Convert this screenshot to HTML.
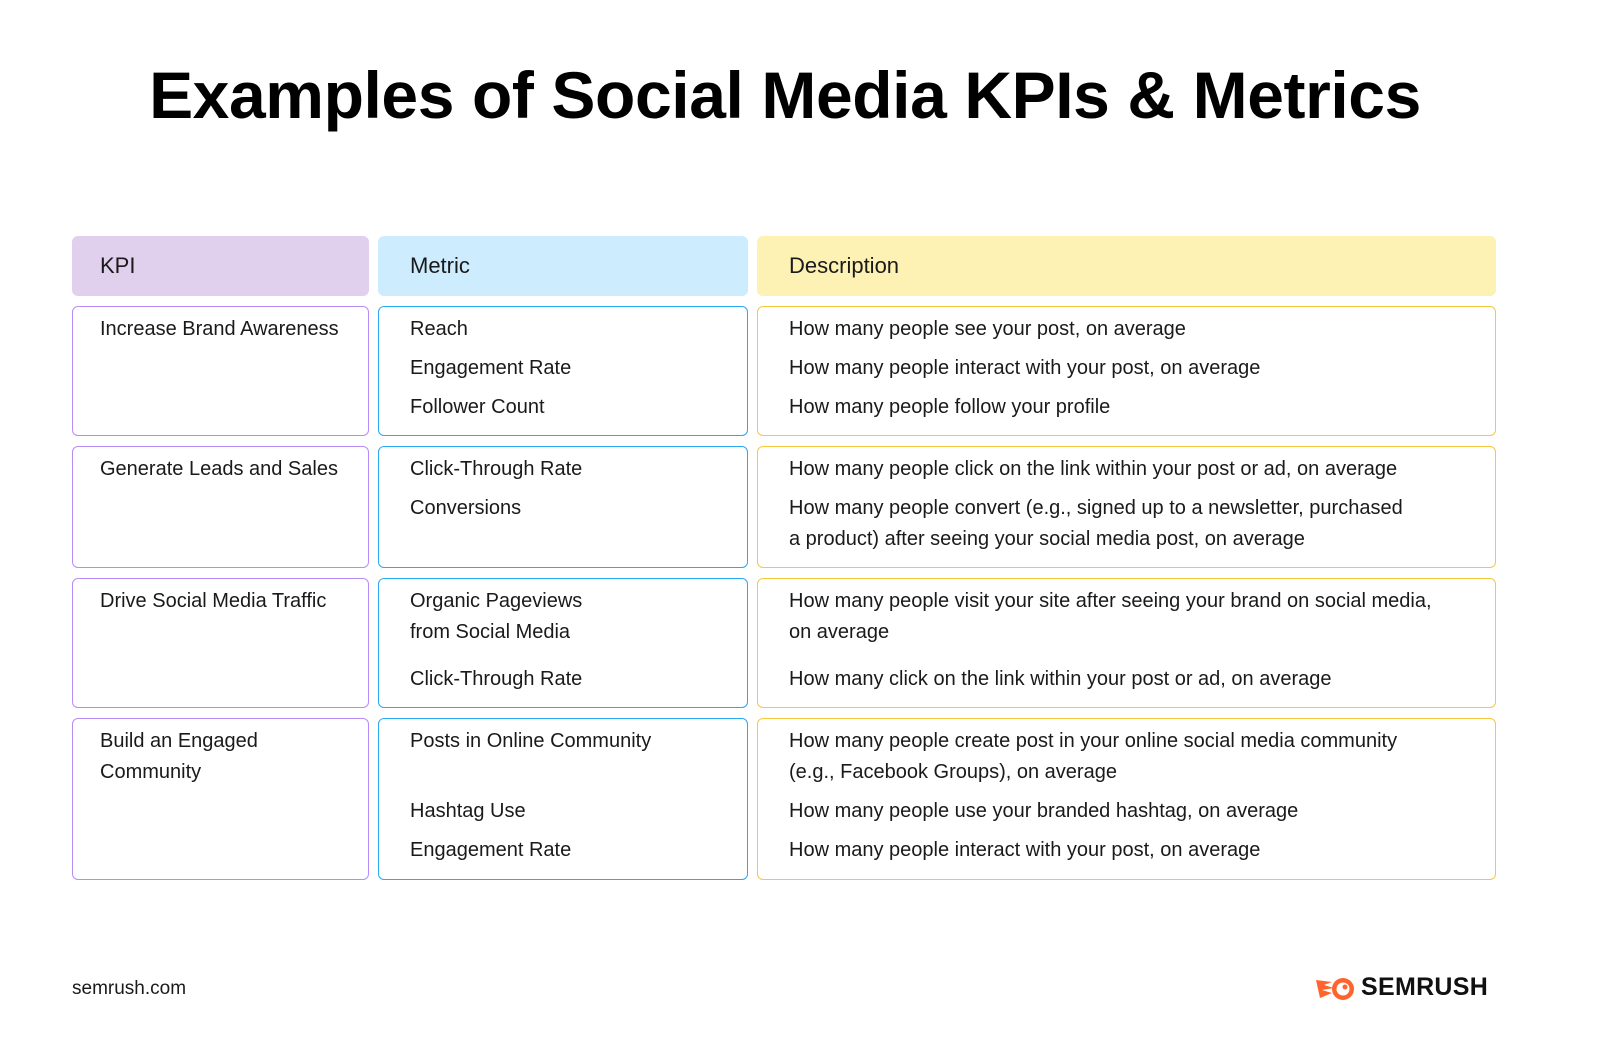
<!DOCTYPE html>
<html><head><meta charset="utf-8"><style>
body{margin:0;width:1600px;height:1045px;background:#fff;position:relative;font-family:"Liberation Sans",sans-serif;color:#1a1a1a;overflow:hidden}
.t{position:absolute;left:0;width:1570px;text-align:center;top:57px;font-size:66px;font-weight:bold;letter-spacing:-0.4px;color:#000}
.b{position:absolute;box-sizing:border-box;border-radius:6px}
.p{border:1.5px solid #b98cf5}.c{border:1.5px solid #2aa8f0}.y{border:1.5px solid #f5c842}
.s{position:absolute;font-size:20px;line-height:31px;white-space:nowrap}
.h{font-size:22px}
</style></head><body>
<div class="t">Examples of Social Media KPIs &amp; Metrics</div>
<div class="b" style="left:72px;top:236px;width:297px;height:60px;background:#e0d0ee"></div>
<div class="b" style="left:378px;top:236px;width:370px;height:60px;background:#cdecfd"></div>
<div class="b" style="left:757px;top:236px;width:739px;height:60px;background:#fdf1b3"></div>
<div class="s h" style="left:100px;top:250px">KPI</div>
<div class="s h" style="left:410px;top:250px">Metric</div>
<div class="s h" style="left:789px;top:250px">Description</div>

<div class="b p" style="left:72px;top:306px;width:297px;height:130px"></div>
<div class="b c" style="left:378px;top:306px;width:370px;height:130px"></div>
<div class="b y" style="left:757px;top:306px;width:739px;height:130px"></div>
<div class="b p" style="left:72px;top:446px;width:297px;height:122px"></div>
<div class="b c" style="left:378px;top:446px;width:370px;height:122px"></div>
<div class="b y" style="left:757px;top:446px;width:739px;height:122px"></div>
<div class="b p" style="left:72px;top:578px;width:297px;height:130px"></div>
<div class="b c" style="left:378px;top:578px;width:370px;height:130px"></div>
<div class="b y" style="left:757px;top:578px;width:739px;height:130px"></div>
<div class="b p" style="left:72px;top:718px;width:297px;height:162px"></div>
<div class="b c" style="left:378px;top:718px;width:370px;height:162px"></div>
<div class="b y" style="left:757px;top:718px;width:739px;height:162px"></div>

<div class="s" style="left:100px;top:314px">Increase Brand Awareness</div>
<div class="s" style="left:410px;top:314px">Reach</div>
<div class="s" style="left:410px;top:353px">Engagement Rate</div>
<div class="s" style="left:410px;top:392px">Follower Count</div>
<div class="s" style="left:789px;top:314px">How many people see your post, on average</div>
<div class="s" style="left:789px;top:353px">How many people interact with your post, on average</div>
<div class="s" style="left:789px;top:392px">How many people follow your profile</div>

<div class="s" style="left:100px;top:454px">Generate Leads and Sales</div>
<div class="s" style="left:410px;top:454px">Click-Through Rate</div>
<div class="s" style="left:410px;top:493px">Conversions</div>
<div class="s" style="left:789px;top:454px">How many people click on the link within your post or ad, on average</div>
<div class="s" style="left:789px;top:493px">How many people convert (e.g., signed up to a newsletter, purchased<br>a product) after seeing your social media post, on average</div>

<div class="s" style="left:100px;top:586px">Drive Social Media Traffic</div>
<div class="s" style="left:410px;top:586px">Organic Pageviews<br>from Social Media</div>
<div class="s" style="left:410px;top:664px">Click-Through Rate</div>
<div class="s" style="left:789px;top:586px">How many people visit your site after seeing your brand on social media,<br>on average</div>
<div class="s" style="left:789px;top:664px">How many click on the link within your post or ad, on average</div>

<div class="s" style="left:100px;top:726px">Build an Engaged<br>Community</div>
<div class="s" style="left:410px;top:726px">Posts in Online Community</div>
<div class="s" style="left:410px;top:796px">Hashtag Use</div>
<div class="s" style="left:410px;top:835px">Engagement Rate</div>
<div class="s" style="left:789px;top:726px">How many people create post in your online social media community<br>(e.g., Facebook Groups), on average</div>
<div class="s" style="left:789px;top:796px">How many people use your branded hashtag, on average</div>
<div class="s" style="left:789px;top:835px">How many people interact with your post, on average</div>

<div class="s" style="left:72px;top:973px;font-size:19px">semrush.com</div>
<svg style="position:absolute;left:1314px;top:976px" width="44" height="26" viewBox="0 0 44 26">
<path d="M2 4 L18 6 L10 9 L20 12 L8 14 L18 17 L6 22 Z" fill="#ff642d"/>
<circle cx="29" cy="13" r="11" fill="#ff642d"/><circle cx="29" cy="13" r="6.5" fill="#fff"/><circle cx="31" cy="11" r="2.5" fill="#ff642d"/>
</svg>
<div class="s" style="left:1361px;top:972px;font-size:25px;font-weight:bold;color:#111;letter-spacing:0.3px">SEMRUSH</div>
</body></html>
